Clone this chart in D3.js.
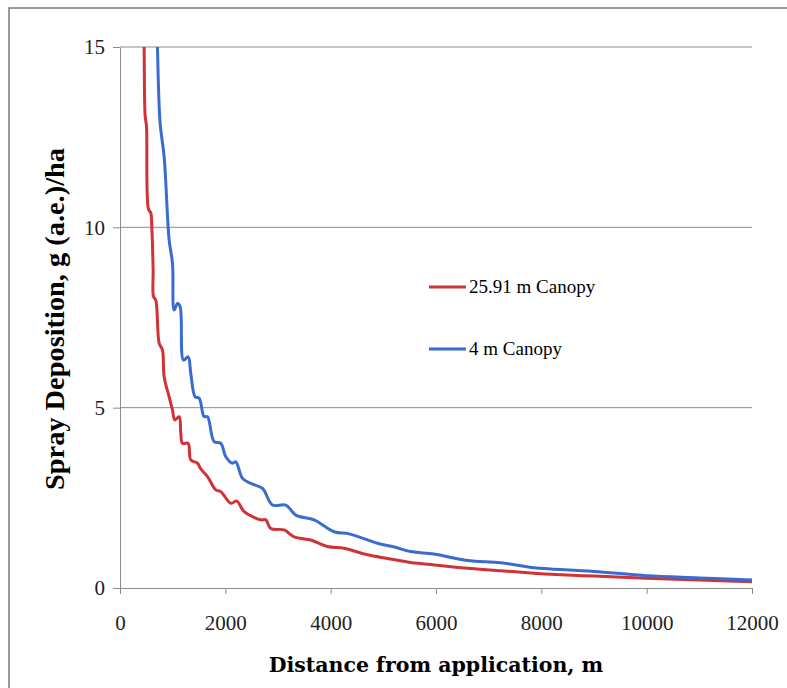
<!DOCTYPE html>
<html>
<head>
<meta charset="utf-8"/>
<script src="https://cdn.jsdelivr.net/npm/d3@7"></script>
<style>
html, body {
  margin: 0;
  background: #fff;
}
.grid line {
  stroke: #8c8c8c;
  stroke-width: 1;
}
.axis path, .axis line {
  stroke: #8c8c8c;
  stroke-width: 1;
}
.axis text {
  font-family: "Liberation Serif", serif;
  font-size: 21px;
  fill: #222;
}
.title {
  font-weight: bold;
  fill: #000;
}
.legend text {
  font-family: "Liberation Serif", serif;
  font-size: 19px;
  fill: #000;
}
</style>
</head>
<body>
<svg id="chart" width="787" height="688"></svg>

<script type='text/javascript'>

// distance (m) / deposition g(a.e.)/ha
var redX = [440, 458, 477, 503, 541, 585, 604, 629, 636, 680, 743, 806, 838, 933, 997, 1040, 1123, 1154, 1186, 1293, 1344, 1471, 1534, 1661, 1819, 1914, 2104, 2218, 2357, 2673, 2768, 2863, 3116, 3306, 3623, 3939, 4255, 4699, 5079, 5521, 5964, 6598, 7230, 7863, 8180, 9000, 10000, 11000, 12000];
var redY = [16.5, 15, 13.1, 12.8, 10.5, 10.4, 10.0, 8.82, 8.08, 7.98, 6.79, 6.6, 5.86, 5.30, 4.93, 4.66, 4.75, 4.29, 4.01, 4.01, 3.55, 3.46, 3.3, 3.09, 2.72, 2.67, 2.35, 2.41, 2.12, 1.89, 1.89, 1.65, 1.61, 1.42, 1.33, 1.15, 1.10, 0.92, 0.82, 0.71, 0.64, 0.55, 0.48, 0.41, 0.38, 0.33, 0.27, 0.22, 0.17];

var blueX = [690, 711, 762, 838, 933, 997, 1028, 1091, 1142, 1205, 1293, 1344, 1426, 1503, 1597, 1661, 1787, 1914, 2009, 2136, 2199, 2326, 2483, 2705, 2895, 3148, 3338, 3686, 4065, 4350, 4889, 5174, 5521, 5964, 6598, 7230, 7863, 8180, 9000, 10000, 11000, 12000];
var blueY = [16.5, 15, 12.88, 11.96, 9.65, 9.0, 7.71, 7.89, 7.8, 6.32, 6.41, 5.95, 5.30, 5.26, 4.75, 4.75, 4.06, 4.01, 3.64, 3.46, 3.50, 3.04, 2.90, 2.76, 2.30, 2.30, 2.02, 1.89, 1.56, 1.50, 1.24, 1.15, 1.01, 0.94, 0.76, 0.70, 0.56, 0.53, 0.46, 0.34, 0.28, 0.22];

var seriesNames = ["25.91 m Canopy", "4 m Canopy"];
var seriesColors = ["#d03236", "#3a6ccf"];

var xTicks = [0, 2000, 4000, 6000, 8000, 10000, 12000];
var yTicks = [0, 5, 10, 15];

var xTitle = "Distance from application, m";
var yTitle = "Spray Deposition,  g (a.e.)/ha";

//---------------------------------------
var svg = d3.select("#chart");

var x = d3.scaleLinear().domain([0, 12000]).range([120, 752]);
var y = d3.scaleLinear().domain([0, 15]).range([588, 47]);

// outer frame
svg.append("rect")
  .attr("x", 9).attr("y", 8)
  .attr("width", 800).attr("height", 700)
  .attr("fill", "none")
  .attr("stroke", "#7a7a7a")
  .attr("stroke-width", 1.5);

// gridlines
svg.append("g").attr("class", "grid")
  .selectAll("line")
  .data(yTicks.filter(function(d) { return d > 0; }))
  .enter().append("line")
  .attr("x1", x(0)).attr("x2", x(12000))
  .attr("y1", function(d) { return y(d); })
  .attr("y2", function(d) { return y(d); });

// axes
var yAxis = svg.append("g").attr("class", "axis")
  .attr("transform", "translate(" + x(0) + ",0)")
  .call(d3.axisLeft(y).tickValues(yTicks).tickSize(7).tickSizeOuter(0).tickPadding(8));

var xAxis = svg.append("g").attr("class", "axis")
  .attr("transform", "translate(0," + y(0) + ")")
  .call(d3.axisBottom(x).tickValues(xTicks).tickFormat(d3.format("d")).tickSize(6).tickSizeOuter(0).tickPadding(24));
xAxis.selectAll("text").attr("dy", "0.55em");

// lines
svg.append("clipPath").attr("id", "clip")
  .append("rect")
  .attr("x", x(0)).attr("y", y(15))
  .attr("width", x(12000) - x(0) + 3).attr("height", y(0) - y(15));

var line = d3.line()
  .x(function(d) { return x(d[0]); })
  .y(function(d) { return y(d[1]); })
  .curve(d3.curveCatmullRom.alpha(0.5));

var series = [d3.zip(redX, redY), d3.zip(blueX, blueY)];

svg.append("g")
  .attr("clip-path", "url(#clip)")
  .selectAll("path")
  .data(series)
  .enter().append("path")
  .attr("fill", "none")
  .attr("stroke", function(d, i) { return seriesColors[i]; })
  .attr("stroke-width", 3)
  .attr("stroke-linejoin", "round")
  .attr("d", line);

// legend
var legend = svg.append("g").attr("class", "legend")
  .selectAll("g")
  .data(seriesNames)
  .enter().append("g")
  .attr("transform", function(d, i) { return "translate(429," + (287 + i * 62) + ")"; });

legend.append("line")
  .attr("x1", 0).attr("x2", 37)
  .attr("stroke", function(d, i) { return seriesColors[i]; })
  .attr("stroke-width", 3);

legend.append("text")
  .attr("x", 40).attr("y", 6)
  .text(function(d) { return d; });

// titles
svg.append("text").attr("class", "title")
  .attr("x", 436).attr("y", 672)
  .attr("text-anchor", "middle")
  .attr("font-family", "'DejaVu Serif', serif")
  .attr("font-size", 20.5)
  .text(xTitle);

svg.append("text").attr("class", "title")
  .attr("transform", "translate(64,319) rotate(-90)")
  .attr("text-anchor", "middle")
  .attr("font-family", "'Liberation Serif', serif")
  .attr("font-size", 27)
  .attr("textLength", 342)
  .attr("lengthAdjust", "spacingAndGlyphs")
  .text(yTitle);

</script>
</body>
</html>
